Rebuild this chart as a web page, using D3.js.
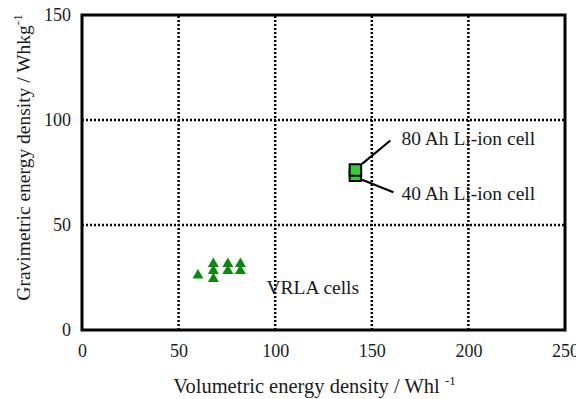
<!DOCTYPE html>
<html>
<head>
<meta charset="utf-8">
<script src="https://cdn.jsdelivr.net/npm/d3@7"></script>
<style>
  html, body { margin: 0; padding: 0; background: #fff; }
  svg text { font-family: "Liberation Serif", "Times New Roman", serif; fill: #1a1a1a; }
</style>
</head>
<body>
<svg id="chart" width="576" height="399"></svg>
<script>
// ---- data ----
const xTicks = [0, 50, 100, 150, 200, 250];
const yTicks = [0, 50, 100, 150];
const vrlaX = [60, 68, 68, 68, 75.5, 75.5, 82, 82];
const vrlaY = [26, 31.5, 28.2, 24.4, 31.5, 28.2, 31.5, 28.2];
const liionNames = ["40 Ah Li-ion cell", "80 Ah Li-ion cell"];
const liionX = [141.5, 141.5];
const liionY = [73.7, 76.2];
const vrlaLabel = "VRLA cells";
const vrlaLabelPos = [95.5, 17.3];
const xTitle = "Volumetric energy density / Whl";
const yTitle = "Gravimetric energy density / Whkg";

// ---- layout ----
const svg = d3.select("#chart");
const x = d3.scaleLinear().domain([0, 250]).range([82, 565]);
const y = d3.scaleLinear().domain([0, 150]).range([330, 15]);

// gridlines
svg.append("g").selectAll("line").data(xTicks.slice(1, -1)).join("line")
  .attr("x1", d => x(d)).attr("x2", d => x(d))
  .attr("y1", y(0)).attr("y2", y(150))
  .attr("stroke", "#000").attr("stroke-width", 2.5).attr("stroke-dasharray", "2,2");
svg.append("g").selectAll("line").data(yTicks.slice(1, -1)).join("line")
  .attr("y1", d => y(d)).attr("y2", d => y(d))
  .attr("x1", x(0)).attr("x2", x(250))
  .attr("stroke", "#000").attr("stroke-width", 2.5).attr("stroke-dasharray", "2,2");

// frame
svg.append("rect")
  .attr("x", x(0)).attr("y", y(150))
  .attr("width", x(250) - x(0)).attr("height", y(0) - y(150))
  .attr("fill", "none").attr("stroke", "#000").attr("stroke-width", 3);

// axes (labels only)
const xAxis = svg.append("g").attr("transform", `translate(0,${y(0)})`)
  .call(d3.axisBottom(x).tickValues(xTicks).tickSize(0).tickPadding(14));
const yAxis = svg.append("g").attr("transform", `translate(${x(0)},0)`)
  .call(d3.axisLeft(y).tickValues(yTicks).tickSize(0).tickPadding(11));
[xAxis, yAxis].forEach(a => {
  a.attr("font-family", null).attr("font-size", null);
  a.select(".domain").remove();
  a.selectAll("text")
    .style("font-family", '"Liberation Serif", "Times New Roman", serif')
    .style("font-size", "18px").attr("fill", "#1a1a1a");
});

// VRLA triangles
const tri = d3.symbol().type(d3.symbolTriangle).size(52);
svg.append("g").selectAll("path").data(vrlaX.map((d, i) => [d, vrlaY[i]])).join("path")
  .attr("d", tri)
  .attr("transform", d => `translate(${x(d[0])},${y(d[1])})`)
  .attr("fill", "#0a8a0a");

// Li-ion squares (40 Ah drawn first, 80 Ah on top)
const sq = d3.symbol().type(d3.symbolSquare).size(132);
svg.append("g").selectAll("path").data(liionX.map((d, i) => [d, liionY[i]])).join("path")
  .attr("d", sq)
  .attr("transform", d => `translate(${x(d[0])},${y(d[1])})`)
  .attr("fill", "#33cc33").attr("stroke", "#000").attr("stroke-width", 2);

// leader lines and labels
const lead = [
  { off1: [6.7, 4.5], off2: [38, 17], label: [46, 25] },   // 40 Ah
  { off1: [6.7, -6.2], off2: [35, -29.5], label: [46, -24.5] } // 80 Ah
];
lead.forEach((l, i) => {
  const px = x(liionX[i]), py = y(liionY[i]);
  svg.append("line")
    .attr("x1", px + l.off1[0]).attr("y1", py + l.off1[1])
    .attr("x2", px + l.off2[0]).attr("y2", py + l.off2[1])
    .attr("stroke", "#000").attr("stroke-width", 2.2);
  svg.append("text")
    .attr("x", px + l.label[0]).attr("y", py + l.label[1])
    .attr("font-size", 19.5)
    .text(liionNames[i]);
});

svg.append("text")
  .attr("x", x(vrlaLabelPos[0])).attr("y", y(vrlaLabelPos[1]))
  .attr("font-size", 19.5)
  .text(vrlaLabel);

// axis titles
const xt = svg.append("text")
  .attr("x", (x(0) + x(250)) / 2 - 9).attr("y", 393)
  .attr("text-anchor", "middle").attr("font-size", 20.5);
xt.append("tspan").text(xTitle + " ");
xt.append("tspan").attr("font-size", 13).attr("dy", -8).text("-1");

const yt = svg.append("text")
  .attr("transform", `translate(30,${(y(0) + y(150)) / 2 - 15}) rotate(-90)`)
  .attr("text-anchor", "middle").attr("font-size", 19.5);
yt.append("tspan").text(yTitle);
yt.append("tspan").attr("font-size", 13).attr("dy", -8).text("-1");
</script>
</body>
</html>
